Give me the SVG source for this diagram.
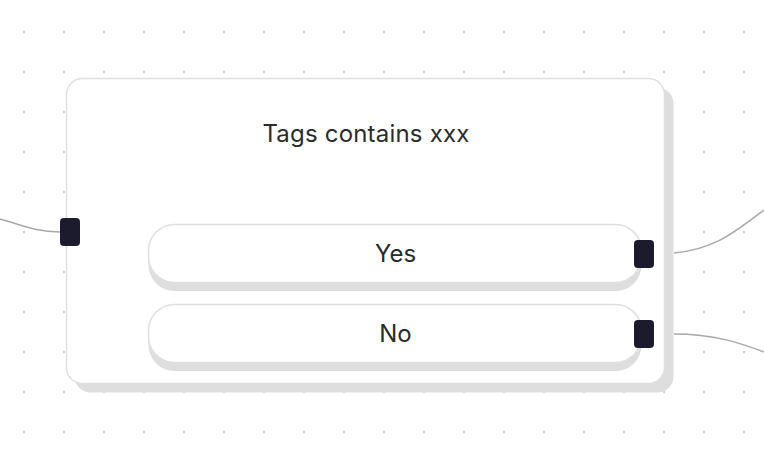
<svg xmlns="http://www.w3.org/2000/svg" width="764" height="456" viewBox="0 0 764 456">
<defs>
<pattern id="dots" x="0" y="0" width="40" height="40" patternUnits="userSpaceOnUse">
<circle cx="24" cy="32" r="0.9" fill="#b8b8b8"/>
</pattern>
<style>
.edge{fill:none;stroke:#a8a8a8;stroke-width:1.5}
.shadow{fill:#dedede}
.card{fill:#fff;stroke:#e0e0e0;stroke-width:1.5}
.handle{fill:#1c1b2e}
.t{font-family:Inter,"Liberation Sans",sans-serif;fill:#2b2b2b;text-anchor:middle;font-size:24px}
</style>
</defs>
<rect width="764" height="456" fill="#fff"/>
<rect width="764" height="456" fill="url(#dots)"/>
<g id="connectors">
<path class="edge" d="M0,219 C22,225 35,232 60,232"/>
<path class="edge" d="M674,253 C715,249 735,232 764,210"/>
<path class="edge" d="M674,334 C715,334 740,343 764,352"/>
</g>
<g id="node-condition">
<rect class="shadow" x="74.5" y="87.5" width="599" height="305" rx="16"/>
<rect class="card" x="66.5" y="78.5" width="598" height="305" rx="16"/>
<text class="t" x="366" y="142" letter-spacing="0.2">Tags contains xxx</text>
<rect class="handle" x="60" y="218" width="20" height="28" rx="4"/>
</g>
<g id="option-yes">
<rect class="shadow" x="148.5" y="233" width="493" height="58" rx="26"/>
<rect class="card" x="148.5" y="224.5" width="493" height="58" rx="26"/>
<text class="t" x="395.5" y="262">Yes</text>
<rect class="handle" x="634" y="240" width="20" height="28" rx="4"/>
</g>
<g id="option-no">
<rect class="shadow" x="148.5" y="313" width="493" height="58" rx="26"/>
<rect class="card" x="148.5" y="304.5" width="493" height="58" rx="26"/>
<text class="t" x="395.5" y="342">No</text>
<rect class="handle" x="634" y="320" width="20" height="28" rx="4"/>
</g>
</svg>
